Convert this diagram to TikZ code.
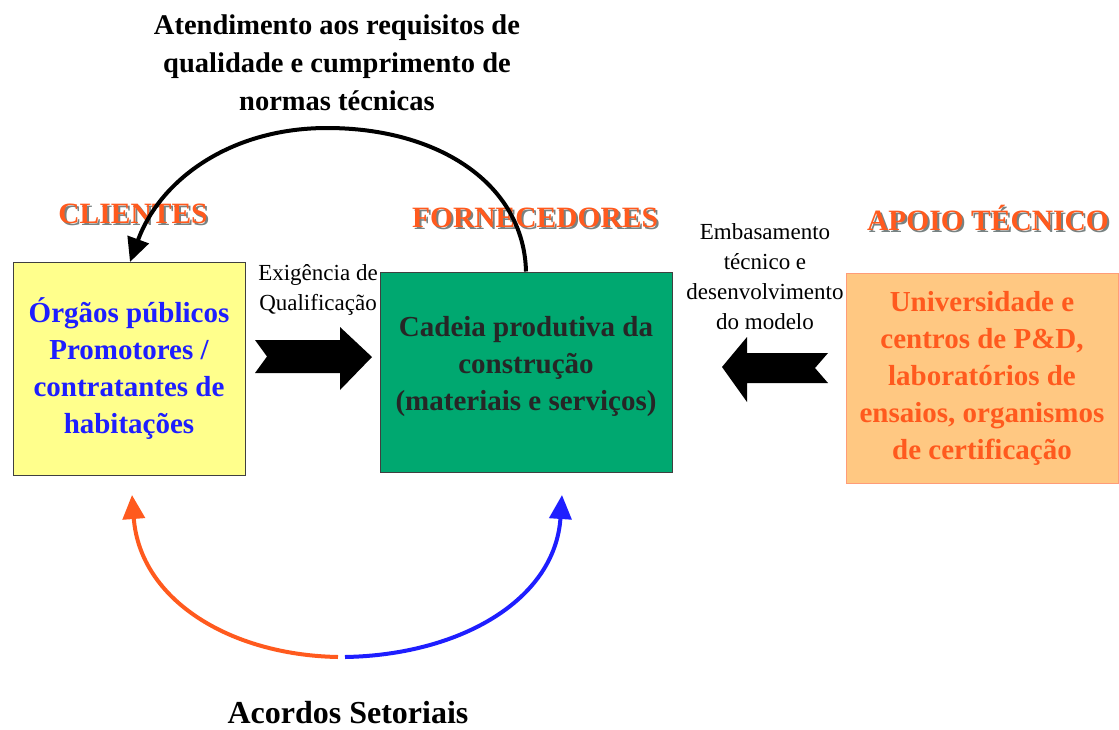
\documentclass[tikz,border=0pt]{standalone}
\usepackage{fontspec}
\setmainfont{Liberation Serif}
\usetikzlibrary{arrows.meta}
\definecolor{yfill}{RGB}{255,255,140}
\definecolor{gfill}{RGB}{0,168,112}
\definecolor{ofill}{RGB}{255,200,130}
\definecolor{otext}{RGB}{255,90,30}
\definecolor{btext}{RGB}{30,30,255}
\definecolor{shadowc}{RGB}{120,130,130}
\tikzset{
  box/.style={draw=black!75, line width=1pt, inner sep=0pt},
  boxtext/.style={font=\fontsize{29}{37}\selectfont\bfseries, align=center},
  titletext/.style={font=\fontsize{29.5}{32}\selectfont\bfseries, text=otext},
  titleshadow/.style={font=\fontsize{29.5}{32}\selectfont\bfseries, text=shadowc},
  smalltext/.style={font=\fontsize{23}{30}\selectfont, align=center},
  bigtext/.style={font=\fontsize{28.5}{38}\selectfont\bfseries, align=center},
  curvearrow/.style={line width=4pt, -{Triangle[length=24pt,width=22pt]}},
  blockarrow/.style={fill=black, draw=none}
}
\begin{document}
\begin{tikzpicture}[x=1pt,y=-1pt]
\useasboundingbox (0,0) rectangle (1119,729);
% boxes
\node[box, fill=yfill, minimum width=232pt, minimum height=213pt] (cli) at (129,368.5) {};
\node[box, fill=gfill, minimum width=292pt, minimum height=200pt] (forn) at (526,372) {};
\node[box, draw=otext!60, fill=ofill, minimum width=272pt, minimum height=210pt] (apoio) at (982,378) {};
\node[boxtext, text=btext] at (cli.center) {Órgãos públicos\\Promotores /\\contratantes de\\habitações};
\node[boxtext, text=black!85] at ([yshift=5pt]forn.center) {Cadeia produtiva da\\construção\\(materiais e serviços)};
\node[boxtext, text=otext] at (apoio.center) {Universidade e\\centros de P\&D,\\laboratórios de\\ensaios, organismos\\de certificação};
% titles
\node[titleshadow] at (135,216) {CLIENTES};
\node[titletext] (t1) at (133,214) {CLIENTES};
\node[titleshadow] at (537,220) {FORNECEDORES};
\node[titletext] (t2) at (535,218) {FORNECEDORES};
\node[titleshadow] at (990,220) {APOIO TÉCNICO};
\node[titletext] (t3) at (988,218) {APOIO TÉCNICO};
% labels
\node[bigtext] (top) at (337,63) {Atendimento aos requisitos de\\qualidade e cumprimento de\\normas técnicas};
\node[font=\fontsize{32}{38}\selectfont\bfseries] (acordos) at (348,713) {Acordos Setoriais};
\node[smalltext] (exig) at (318,290) {Exigência de\\Qualificação};
\node[smalltext] (emb) at (765,277) {Embasamento\\técnico e\\desenvolvimento\\do modelo};
% block arrows
\path[blockarrow] (255,340) -- (340,340) -- (340,327) -- (372,357) -- (340,390) -- (340,373) -- (255,373) -- (267,356.5) -- cycle;
\path[blockarrow] (828,353) -- (747,353) -- (747,337) -- (722,367) -- (747,402) -- (747,383) -- (828,383) -- (815,368) -- cycle;
% curved arrows
\coordinate (topstart) at (forn.north);
\coordinate (toptip) at (130,262);
\draw[curvearrow] (topstart) .. controls (524,185) and (440,128) .. (327,128) .. controls (230,128) and (160,180) .. (toptip);
\coordinate (obot) at (338,657);
\coordinate (otip) at (132,495);
\coordinate (bbot) at (345,657);
\coordinate (btip) at (562,495);
\draw[curvearrow, draw=otext] (obot) .. controls (230,655) and (140,600) .. (otip);
\draw[curvearrow, draw=btext] (bbot) .. controls (460,655) and (555,600) .. (btip);
\end{tikzpicture}
\end{document}
